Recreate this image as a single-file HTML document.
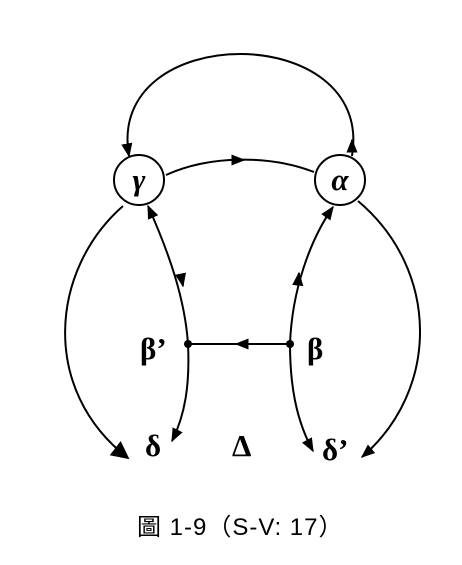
<!DOCTYPE html>
<html><head><meta charset="utf-8"><style>
html,body{margin:0;padding:0;background:#fff;width:462px;height:565px;overflow:hidden}
svg{display:block}
.lb{font-family:"Liberation Serif",serif;font-weight:bold;font-size:31px;fill:#000}
</style></head><body>
<svg width="462" height="565" viewBox="0 0 462 565">
<defs>
<marker id="ae" viewBox="0 0 10 10" refX="9" refY="5" markerWidth="7" markerHeight="7" orient="auto-start-reverse"><path d="M0,1 L10,5 L0,9 Z" fill="#000"/></marker>
<marker id="big" viewBox="0 0 10 10" refX="9" refY="5" markerWidth="9" markerHeight="9" orient="auto"><path d="M0,0 L10,5 L0,10 Z" fill="#000"/></marker>
</defs>
<g fill="none" stroke="#000" stroke-width="2">
<circle cx="139" cy="180" r="25" fill="#fff"/>
<circle cx="340" cy="180" r="25" fill="#fff"/>
<path d="M129,156 C105,20 375,20 352,156" marker-start="url(#ae)"/>
<path d="M352,150 L352,140" marker-end="url(#ae)"/>
<path d="M166,175 C210,155 270,155 314,172"/>
<path d="M234,160 L244,160" marker-end="url(#ae)"/>
<path d="M123,206 C50,270 40,390 128,458" marker-end="url(#big)"/>
<path d="M358,201 C440,270 440,390 362,457" marker-end="url(#ae)"/>
<path d="M148,206 C170,255 185,300 188,344" marker-start="url(#ae)"/>
<path d="M181,276 L183,286" marker-end="url(#ae)"/>
<path d="M188,344 C190,385 185,415 172,441" marker-end="url(#ae)"/>
<path d="M290,344 C292,290 310,240 333,207" marker-end="url(#ae)"/>
<path d="M298,283 L299,273" marker-end="url(#ae)"/>
<path d="M290,344 C290,385 296,420 313,451" marker-end="url(#ae)"/>
<path d="M290,344 L188,344"/>
<path d="M245,344 L236,344" marker-end="url(#ae)"/>
</g>
<circle cx="188" cy="344" r="4" fill="#000"/>
<circle cx="290" cy="344" r="4" fill="#000"/>
<text class="lb" x="139" y="190" text-anchor="middle" font-style="italic">γ</text>
<text class="lb" x="340" y="190" text-anchor="middle" font-style="italic">α</text>
<text class="lb" x="140" y="359">β’</text>
<text class="lb" x="307" y="359">β</text>
<text class="lb" x="145" y="456">δ</text>
<text class="lb" x="232" y="456" font-weight="normal">Δ</text>
<text class="lb" x="322" y="460">δ’</text>
<text x="137" y="535" font-family="'Liberation Sans','Noto Sans CJK TC',sans-serif" font-size="24" letter-spacing="1" fill="#000">圖 1-9（S-V: 17）</text>
</svg>
</body></html>
